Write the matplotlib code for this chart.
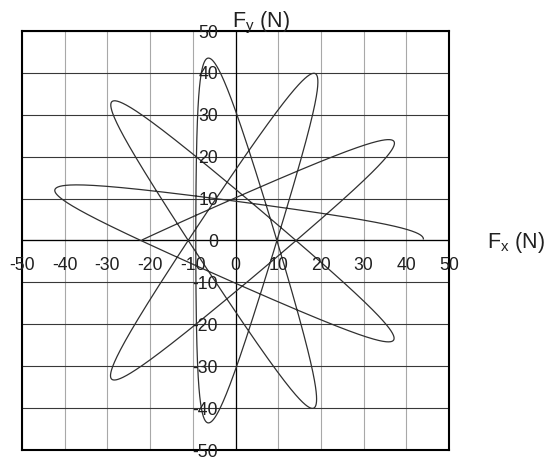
import numpy as np
import matplotlib
matplotlib.use("Agg")
import matplotlib.pyplot as plt

plt.rcParams['font.family'] = ['Liberation Sans', 'DejaVu Sans']
plt.rcParams['mathtext.fontset'] = 'custom'
plt.rcParams['mathtext.rm'] = 'Liberation Sans'
plt.rcParams['mathtext.it'] = 'Liberation Sans'

# ---- data ----
tip_angles_deg = [0.5, 164.0, 327.3, 131.1, 294.6, 98.4, 261.6, 64.9, 228.8, 32.5]
tip_radius = 44.0          # N, distance of petal tips from origin
waist_radius = 9.3         # N, closest approach to origin
last_turn_deg = -16.4      # rotation of the last (partial) half-cycle
end_fraction = 0.652       # portion of last half-cycle drawn
x_ticks = [-50, -40, -30, -20, -10, 0, 10, 20, 30, 40, 50]
y_ticks = [-50, -40, -30, -20, -10, 0, 10, 20, 30, 40, 50]
x_tick_labels = ['-50', '-40', '-30', '-20', '-10', '0', '10', '20', '30', '40', '50']
y_tick_labels = ['-50', '-40', '-30', '-20', '-10', '0', '10', '20', '30', '40', '50']

# ---- build curve: precessing narrow ellipse through the read tips ----
A, B = tip_radius, waist_radius
segs = []
for k in range(len(tip_angles_deg) - 1):
    a0 = tip_angles_deg[k]
    a1 = tip_angles_deg[k + 1]
    d = ((a1 - a0 - 180.0 + 180.0) % 360.0) - 180.0
    s = np.linspace(0, np.pi, 300)
    z = np.exp(1j * (np.radians(a0) + np.radians(d) * s / np.pi)) * (A * np.cos(s) + 1j * B * np.sin(s))
    segs.append(z)
s = np.linspace(0, end_fraction * np.pi, 200)
a0 = tip_angles_deg[-1]
z = np.exp(1j * (np.radians(a0) + np.radians(last_turn_deg) * s / np.pi)) * (A * np.cos(s) + 1j * B * np.sin(s))
segs.append(z)
zz = np.concatenate(segs)
fx, fy = zz.real, zz.imag

W, H = 548, 458
fig = plt.figure(figsize=(W / 100, H / 100), dpi=100)
ax = fig.add_axes([22 / W, 1 - 450 / H, 427 / W, 419 / H])
ax.set_xlim(-50, 50)
ax.set_ylim(-50, 50)
ax.set_xticks([])
ax.set_yticks([])
for sp in ax.spines.values():
    sp.set_linewidth(1.5)
    sp.set_color('black')

for xv in x_ticks:
    ax.axvline(xv, color='#a8a8a8', lw=0.8, zorder=1)
for yv in y_ticks:
    ax.axhline(yv, color='#383838', lw=0.8, zorder=1)
ax.axvline(0, color='black', lw=0.9, zorder=2)
ax.axhline(0, color='black', lw=0.9, zorder=2)

ax.plot(fx, fy, color='#303030', lw=0.9, zorder=3)

for xv, lab in zip(x_ticks, x_tick_labels):
    ax.annotate(lab, xy=(xv, 0), xytext=(0, -21), textcoords='offset points',
                ha='center', va='baseline', fontsize=12.7, color='#202020',
                annotation_clip=False, zorder=4)
for yv, lab in zip(y_ticks, y_tick_labels):
    ax.annotate(lab, xy=(0, yv), xytext=(-12.6, -4.7), textcoords='offset points',
                ha='right', va='baseline', fontsize=12.7, color='#202020',
                annotation_clip=False, zorder=4)

fig.text(487 / W, 1 - 248 / H, r'F$_\mathrm{x}$ (N)', fontsize=15.5, ha='left', va='baseline', color='#202020')
fig.text(232 / W, 1 - 27 / H, r'F$_\mathrm{y}$ (N)', fontsize=15.5, ha='left', va='baseline', color='#202020')

fig.savefig('out.png', dpi=100)
